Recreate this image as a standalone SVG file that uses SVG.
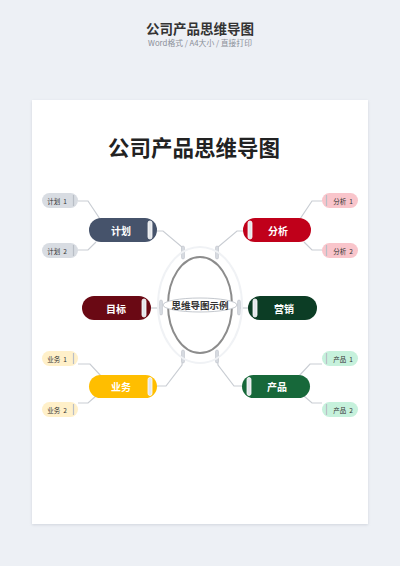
<svg xmlns="http://www.w3.org/2000/svg" width="400" height="566" viewBox="0 0 400 566">
<defs>
<style>
.cn{font-family:"Noto Sans CJK SC","Noto Sans",sans-serif;}
.main{font-size:10px;font-weight:bold;fill:#ffffff;text-anchor:middle;dominant-baseline:central;}
.sub{font-size:6.5px;fill:#333;text-anchor:middle;dominant-baseline:central;white-space:pre;}
.ln{fill:none;stroke:#c9cdd3;stroke-width:1.2;}
.cap{fill:#d6dae0;stroke:#b8bdc5;stroke-width:0.5;}
.bar{fill:#e4e7eb;stroke:#ffffff;stroke-width:0.8;}
.sbar{stroke:#b9bec6;stroke-width:1.2;}
</style>
<filter id="sh" x="-5%" y="-5%" width="110%" height="110%">
<feDropShadow dx="0" dy="1" stdDeviation="1.5" flood-color="#9aa3b0" flood-opacity="0.35"/>
</filter>
</defs>
<rect width="400" height="566" fill="#edf0f5"/>
<text class="cn" x="200" y="34" font-size="13.5" font-weight="bold" fill="#333" text-anchor="middle">公司产品思维导图</text>
<text class="cn" x="200" y="45.5" font-size="7.8" fill="#8a8f98" text-anchor="middle">Word格式 / A4大小 / 直接打印</text>
<rect x="32" y="100" width="336" height="424" fill="#ffffff" filter="url(#sh)"/>
<text class="cn" x="194" y="156" font-size="21.5" font-weight="bold" fill="#222" text-anchor="middle">公司产品思维导图</text>

<g id="connectors">
<path class="ln" d="M157,231 L163,231 L182,247 L183,258"/>
<path class="ln" d="M243,231 L237,231 L218,247 L217,258"/>
<path class="ln" d="M151,308 L162,308"/>
<path class="ln" d="M248,308 L238,308"/>
<path class="ln" d="M157,386 L166,386 L182,365 L183,351"/>
<path class="ln" d="M242,386 L234,386 L218,365 L217,351"/>
<path class="ln" d="M78,201 L88,201 L100,219"/>
<path class="ln" d="M78,250 L88,250 L96,242"/>
<path class="ln" d="M322,201 L312,201 L300,219"/>
<path class="ln" d="M322,250 L312,250 L304,242"/>
<path class="ln" d="M78,364 L90,364 L101,376"/>
<path class="ln" d="M78,403 L88,403 L96,396"/>
<path class="ln" d="M322,364 L310,364 L299,376"/>
<path class="ln" d="M322,403 L312,403 L304,396"/>
<rect class="cap" x="181.5" y="246" width="3" height="13" rx="1.5"/>
<rect class="cap" x="215.5" y="246" width="3" height="13" rx="1.5"/>
<rect class="cap" x="181.5" y="350" width="3" height="13" rx="1.5"/>
<rect class="cap" x="215.5" y="350" width="3" height="13" rx="1.5"/>
<rect class="cap" x="159.5" y="300" width="3" height="15" rx="1.5"/>
<rect class="cap" x="237.5" y="300" width="3" height="15" rx="1.5"/>
</g>

<g id="center">
<ellipse cx="200" cy="305" rx="42" ry="58" fill="none" stroke="#f0f2f5" stroke-width="2"/>
<ellipse cx="200" cy="305" rx="32" ry="48" fill="#ffffff" stroke="#8c8c8c" stroke-width="2"/>
<ellipse cx="200" cy="305" rx="37" ry="7" fill="#ffffff" stroke="#c4c8ce" stroke-width="1"/>
<text class="cn" x="200" y="305" font-size="9.5" font-weight="bold" fill="#333" text-anchor="middle" dominant-baseline="central">思维导图示例</text>
</g>

<g id="n-jihua">
<rect x="89" y="218" width="68" height="24" rx="12" fill="#46536b"/>
<rect class="bar" x="148" y="221" width="4" height="18" rx="2"/>
<text class="cn main" x="121" y="230">计划</text>
</g>
<g id="n-fenxi">
<rect x="243" y="218" width="68" height="24" rx="12" fill="#c0001a"/>
<rect class="bar" x="248" y="221" width="4" height="18" rx="2"/>
<text class="cn main" x="278" y="230">分析</text>
</g>
<g id="n-mubiao">
<rect x="82" y="296" width="69" height="24" rx="12" fill="#6a0914"/>
<rect class="bar" x="142" y="299" width="4" height="18" rx="2"/>
<text class="cn main" x="116" y="308">目标</text>
</g>
<g id="n-yingxiao">
<rect x="248" y="296" width="69" height="24" rx="12" fill="#0c3d25"/>
<rect class="bar" x="253" y="299" width="4" height="18" rx="2"/>
<text class="cn main" x="284" y="308">营销</text>
</g>
<g id="n-yewu">
<rect x="89" y="375" width="68" height="23" rx="11.5" fill="#ffbe00"/>
<rect class="bar" x="148" y="377.5" width="4" height="18" rx="2"/>
<text class="cn main" x="121" y="386.5">业务</text>
</g>
<g id="n-chanpin">
<rect x="242" y="375" width="68" height="23" rx="11.5" fill="#17683a"/>
<rect class="bar" x="247" y="377.5" width="4" height="18" rx="2"/>
<text class="cn main" x="277" y="386.5">产品</text>
</g>

<g id="s-jihua1">
<rect x="42" y="193" width="36" height="15" rx="7.5" fill="#d8dce2"/>
<line class="sbar" x1="73.5" y1="195" x2="73.5" y2="206"/>
<text class="cn sub" x="57" y="200.5">计划  1</text>
</g>
<g id="s-jihua2">
<rect x="42" y="243" width="36" height="15" rx="7.5" fill="#d8dce2"/>
<line class="sbar" x1="73.5" y1="245" x2="73.5" y2="256"/>
<text class="cn sub" x="57" y="250.5">计划  2</text>
</g>
<g id="s-fenxi1">
<rect x="322" y="193" width="36" height="15" rx="7.5" fill="#f9c5cb"/>
<line class="sbar" x1="326.5" y1="195" x2="326.5" y2="206"/>
<text class="cn sub" x="343" y="200.5">分析  1</text>
</g>
<g id="s-fenxi2">
<rect x="322" y="243" width="36" height="15" rx="7.5" fill="#f9c5cb"/>
<line class="sbar" x1="326.5" y1="245" x2="326.5" y2="256"/>
<text class="cn sub" x="343" y="250.5">分析  2</text>
</g>
<g id="s-yewu1">
<rect x="42" y="351" width="36" height="15" rx="7.5" fill="#fff0c9"/>
<line class="sbar" x1="73.5" y1="353" x2="73.5" y2="364"/>
<text class="cn sub" x="57" y="358.5">业务  1</text>
</g>
<g id="s-yewu2">
<rect x="42" y="402" width="36" height="15" rx="7.5" fill="#fff0c9"/>
<line class="sbar" x1="73.5" y1="404" x2="73.5" y2="415"/>
<text class="cn sub" x="57" y="409.5">业务  2</text>
</g>
<g id="s-chanpin1">
<rect x="322" y="351" width="36" height="15" rx="7.5" fill="#c6f1dc"/>
<line class="sbar" x1="326.5" y1="353" x2="326.5" y2="364"/>
<text class="cn sub" x="343" y="358.5">产品  1</text>
</g>
<g id="s-chanpin2">
<rect x="322" y="402" width="36" height="15" rx="7.5" fill="#c6f1dc"/>
<line class="sbar" x1="326.5" y1="404" x2="326.5" y2="415"/>
<text class="cn sub" x="343" y="409.5">产品  2</text>
</g>
</svg>
